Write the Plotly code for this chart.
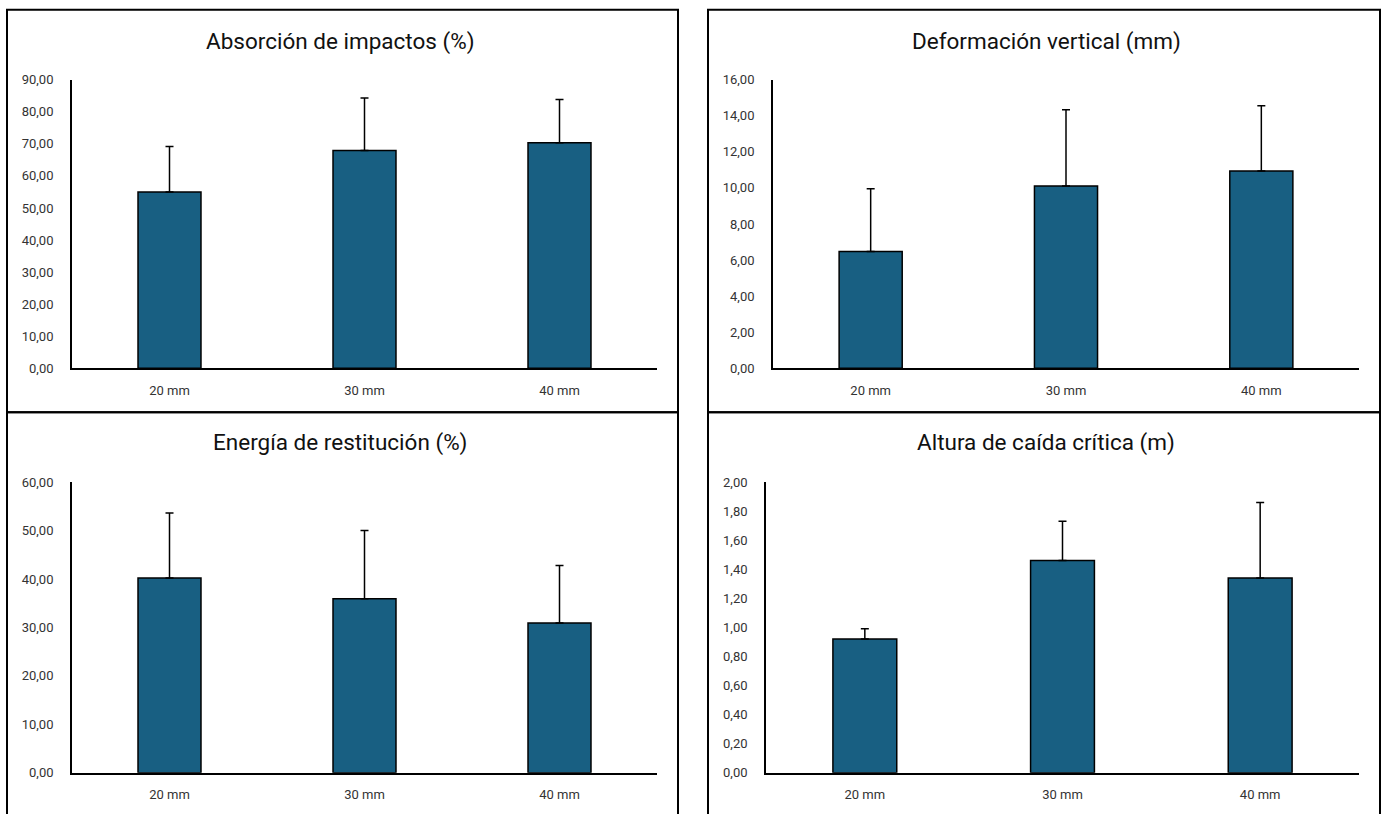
import plotly.graph_objects as go

W, H = 1386, 814

categories = ["20 mm", "30 mm", "40 mm"]

absorcion_vals = [55.0, 67.9, 70.3]
absorcion_err_top = [69.2, 84.3, 83.8]

deformacion_vals = [6.48, 10.11, 10.94]
deformacion_err_top = [9.96, 14.33, 14.55]

energia_vals = [40.2, 35.9, 30.9]
energia_err_top = [53.6, 50.0, 42.8]

altura_vals = [0.92, 1.46, 1.34]
altura_err_top = [0.99, 1.73, 1.86]

titles = ["Absorción de impactos (%)", "Deformación vertical (mm)",
          "Energía de restitución (%)", "Altura de caída crítica (m)"]

BAR = "#185F82"
FONT = "Roboto, Liberation Sans, sans-serif"


def sy(y):
    # map target screen y (px) to layout y (px), compensating the page capture
    return (y - 7.2) / 0.983


panels = [
    # vals, err_top, ymax, dtick, plot x0,x1 (px), y top, y bottom (px), title center x, title y
    (absorcion_vals, absorcion_err_top, 90, 10, 72, 657, 80, 369, 340, 42),
    (deformacion_vals, deformacion_err_top, 16, 2, 773, 1359, 80, 369, 1046, 42),
    (energia_vals, energia_err_top, 60, 10, 72, 657, 483, 774, 340, 443),
    (altura_vals, altura_err_top, 2, 0.2, 766, 1359, 483, 774, 1046, 443),
]

fig = go.Figure()
annotations = []
for i, (vals, etop, ymax, dt, x0, x1, yt, yb, tx, ty) in enumerate(panels):
    n = "" if i == 0 else str(i + 1)
    plus = [e - v for e, v in zip(etop, vals)]
    fig.add_trace(go.Bar(
        x=categories, y=vals, xaxis="x" + n, yaxis="y" + n,
        width=0.323,
        marker=dict(color=BAR, line=dict(color="black", width=1.5)),
        error_y=dict(type="data", array=plus, arrayminus=[0] * len(vals),
                     symmetric=False, color="black", thickness=1.5, width=4),
        showlegend=False,
    ))
    xd = [x0 / W, x1 / W]
    yd = [1 - sy(yb) / H, 1 - sy(yt) / H]
    fig.layout["xaxis" + n] = dict(
        domain=xd, anchor="y" + n, showline=True, linecolor="black", linewidth=1.8,
        ticks="", showgrid=False, zeroline=False,
        tickfont=dict(family=FONT, size=13, color="#333333"),
        ticklabelstandoff=9, fixedrange=True,
    )
    fig.layout["yaxis" + n] = dict(
        domain=yd, anchor="x" + n, range=[0, ymax], dtick=dt, tick0=0,
        tickformat=".2f", showline=True, linecolor="black", linewidth=1.8,
        ticks="", showgrid=False, zeroline=False,
        tickfont=dict(family=FONT, size=13, color="#333333"),
        ticklabelstandoff=14, fixedrange=True,
    )
    annotations.append(dict(
        text=titles[i], x=tx / W, y=1 - sy(ty) / H, xref="paper", yref="paper",
        xanchor="center", yanchor="middle", showarrow=False,
        font=dict(family=FONT, size=22.5, color="#111111"),
    ))

shapes = []
for (bx0, by0, bx1, by1) in [(7, 10, 678, 413), (708, 10, 1380, 413),
                             (7, 413, 678, 840), (708, 413, 1380, 840)]:
    shapes.append(dict(type="rect", xref="paper", yref="paper",
                       x0=bx0 / W, x1=bx1 / W, y0=1 - sy(by1) / H, y1=1 - sy(by0) / H,
                       line=dict(color="black", width=2), fillcolor="rgba(0,0,0,0)",
                       layer="below"))

fig.update_layout(
    width=W, height=H, margin=dict(l=0, r=0, t=0, b=0),
    paper_bgcolor="white", plot_bgcolor="white",
    separators=",.", bargap=0.677,
    annotations=annotations, shapes=shapes,
)

fig.write_html("out.html", config={"displayModeBar": False})
